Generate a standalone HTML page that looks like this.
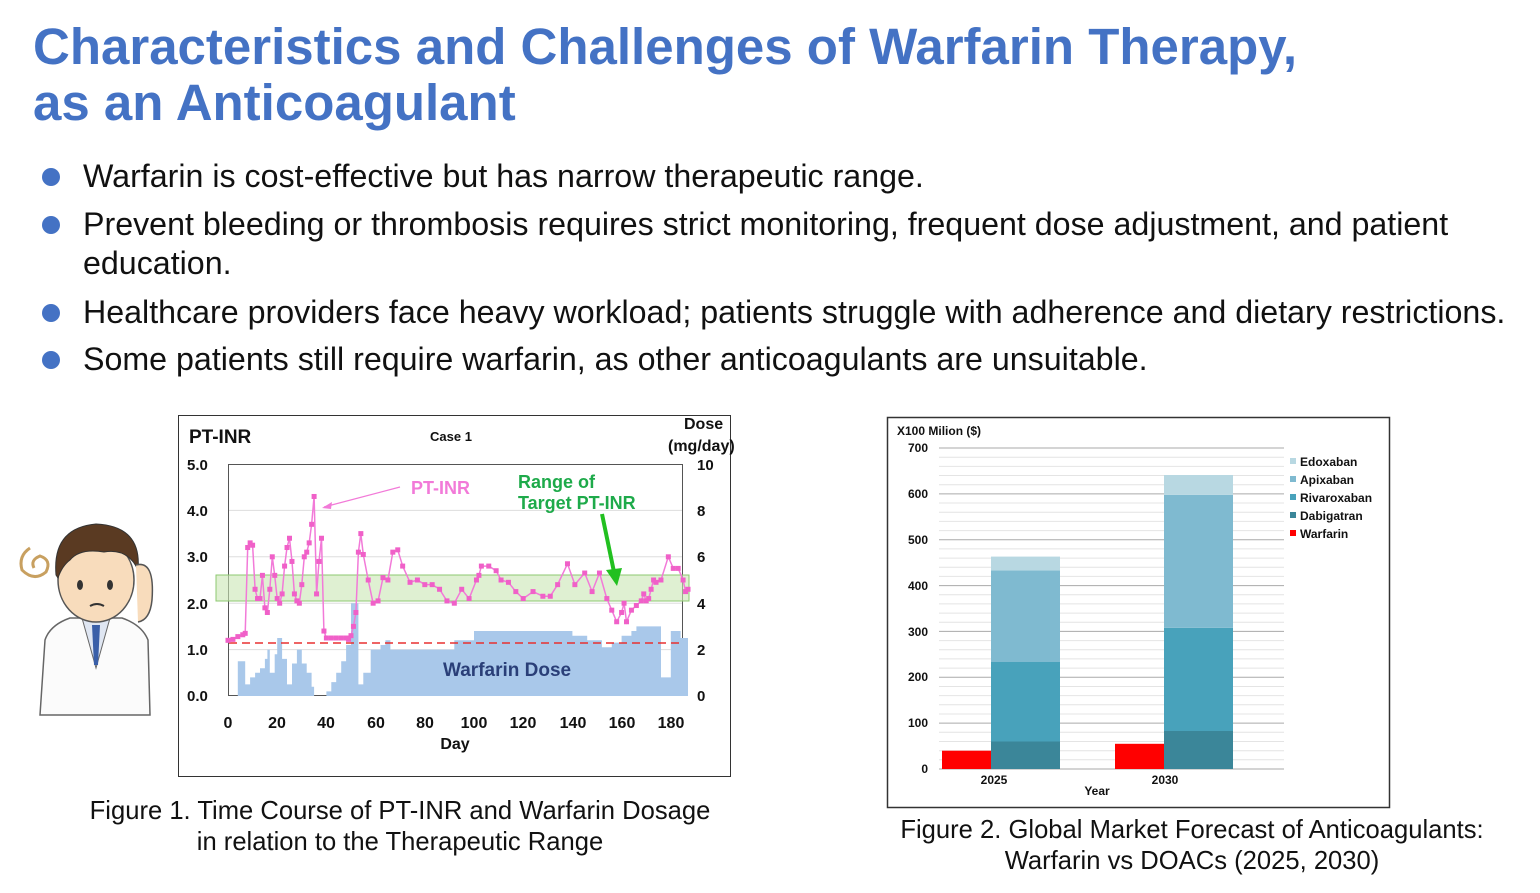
<!DOCTYPE html>
<html><head><meta charset="utf-8"><style>
body{margin:0;width:1540px;height:893px;background:#fff;overflow:hidden;font-family:"Liberation Sans",Arial,sans-serif;position:relative}
.t{position:absolute;left:33px;top:19px;font-size:51px;font-weight:bold;color:#4472c4;line-height:56px}
.b{position:absolute;left:83px;font-size:32.2px;color:#111;line-height:39px;white-space:nowrap}
.d{position:absolute;left:42px;width:18px;height:18px;border-radius:50%;background:#4472c4}
.cap{position:absolute;font-size:25.6px;color:#111;text-align:center;line-height:31px;white-space:nowrap}
</style></head><body>
<div class="t">Characteristics and Challenges of Warfarin Therapy,<br>as an Anticoagulant</div>
<div class="d" style="top:168px"></div><div class="b" style="top:157px">Warfarin is cost-effective but has narrow therapeutic range.</div>
<div class="d" style="top:216px"></div><div class="b" style="top:205px">Prevent bleeding or thrombosis requires strict monitoring, frequent dose adjustment, and patient<br>education.</div>
<div class="d" style="top:304px"></div><div class="b" style="top:293px">Healthcare providers face heavy workload; patients struggle with adherence and dietary restrictions.</div>
<div class="d" style="top:351px"></div><div class="b" style="top:340px">Some patients still require warfarin, as other anticoagulants are unsuitable.</div>

<svg width="1540" height="893" style="position:absolute;left:0;top:0" font-family="Liberation Sans,Arial,sans-serif">
<g>
<path d="M40 715 L45 640 Q50 625 70 618 L122 618 Q142 625 148 640 L150 715 Z" fill="#fbfbfb" stroke="#666" stroke-width="1.5"/>
<path d="M82 618 L96 668 L110 618 Z" fill="#dfe6f2" stroke="#666"/>
<path d="M92 625 L100 625 L98 665 L94 665 Z" fill="#3a5fa8"/>
<rect x="84" y="598" width="24" height="22" fill="#f6d3b0"/>
<ellipse cx="96" cy="580" rx="38" ry="42" fill="#f8dcbc" stroke="#555" stroke-width="1.5"/>
<path d="M56 575 Q52 528 96 524 Q142 526 138 570 Q128 548 104 552 Q80 548 70 560 Q62 566 58 578 Z" fill="#5a3a22" stroke="#333"/>
<ellipse cx="80" cy="585" rx="3" ry="5" fill="#333"/><ellipse cx="110" cy="585" rx="3" ry="5" fill="#333"/>
<path d="M90 606 Q97 602 104 606" stroke="#333" fill="none" stroke-width="2"/>
<path d="M136 565 Q155 560 152 600 Q150 620 138 622" fill="#f8dcbc" stroke="#555" stroke-width="1.5"/>
<path d="M30 548 Q18 556 22 570 Q34 582 46 572 Q52 560 40 556 Q30 560 34 568" fill="none" stroke="#c8a060" stroke-width="3"/>
</g>
<rect x="178.5" y="415.5" width="552" height="361" fill="#fff" stroke="#333"/>
<rect x="228.5" y="464.5" width="454" height="231" fill="none" stroke="#555"/>
<g stroke="#ddd"><line x1="229" x2="682" y1="510.4" y2="510.4"/><line x1="229" x2="682" y1="556.8" y2="556.8"/><line x1="229" x2="682" y1="603.2" y2="603.2"/><line x1="229" x2="682" y1="649.6" y2="649.6"/></g>
<path id="dose" fill="#a9c8ea" d=""/>
<rect x="216" y="575" width="473" height="26" fill="#c9e6b4" fill-opacity="0.6" stroke="#8cc870"/>
<line x1="229" x2="682" y1="643" y2="643" stroke="#e83030" stroke-width="1.5" stroke-dasharray="8,5"/>
<polyline id="inr" fill="none" stroke="#f27ad8" stroke-width="1.5" points=""/>
<g id="marks" fill="#f060c8"></g>
<text x="443" y="676" font-size="19" font-weight="bold" fill="#2a3f78">Warfarin Dose</text>
<text x="411" y="494" font-size="18" font-weight="bold" fill="#f27ad8">PT-INR</text>
<line x1="400" y1="487" x2="324" y2="507" stroke="#f27ad8" stroke-width="1.2"/>
<path d="M322 508 L332 502 L331 509 Z" fill="#f27ad8"/>
<text x="518" y="488" font-size="18" font-weight="bold" fill="#1eaa4a">Range of</text>
<text x="518" y="509" font-size="18" font-weight="bold" fill="#1eaa4a">Target PT-INR</text>
<line x1="602" y1="514" x2="614" y2="572" stroke="#22c020" stroke-width="4"/>
<path d="M606 570 L617 586 L622 568 Z" fill="#22c020"/>
<text x="189" y="443" font-size="19" font-weight="bold" fill="#111">PT-INR</text>
<text x="430" y="441" font-size="13" font-weight="bold" fill="#111">Case 1</text>
<text x="684" y="429" font-size="16" font-weight="bold" fill="#111">Dose</text>
<text x="668" y="451" font-size="16" font-weight="bold" fill="#111">(mg/day)</text>
<g font-size="15" font-weight="bold" fill="#111">
<text x="187" y="470">5.0</text><text x="187" y="516">4.0</text><text x="187" y="562">3.0</text><text x="187" y="609">2.0</text><text x="187" y="655">1.0</text><text x="187" y="701">0.0</text>
<text x="697" y="470">10</text><text x="697" y="516">8</text><text x="697" y="562">6</text><text x="697" y="609">4</text><text x="697" y="655">2</text><text x="697" y="701">0</text>
</g>
<g font-size="16" font-weight="bold" fill="#111" text-anchor="middle">
<text x="228" y="728">0</text><text x="277" y="728">20</text><text x="326" y="728">40</text><text x="376" y="728">60</text><text x="425" y="728">80</text><text x="474" y="728">100</text><text x="523" y="728">120</text><text x="573" y="728">140</text><text x="622" y="728">160</text><text x="671" y="728">180</text>
<text x="455" y="749">Day</text>
</g>
<rect x="887.5" y="417.5" width="502" height="390" fill="#fff" stroke="#333" stroke-width="1.5"/>
<g id="grid2"></g>
<g font-size="12" font-weight="bold" fill="#111">
<text x="897" y="435">X100 Milion ($)</text>
<g text-anchor="end"><text x="928" y="452">700</text><text x="928" y="498">600</text><text x="928" y="544">500</text><text x="928" y="590">400</text><text x="928" y="636">300</text><text x="928" y="681">200</text><text x="928" y="727">100</text><text x="928" y="773">0</text></g>
<text x="994" y="784" text-anchor="middle">2025</text><text x="1165" y="784" text-anchor="middle">2030</text><text x="1097" y="795" text-anchor="middle">Year</text>
</g>
<rect x="942" y="750.7" width="49" height="18.3" fill="#ff0000"/>
<rect x="991" y="741.5" width="69" height="27.5" fill="#3b8699"/>
<rect x="991" y="662" width="69" height="79.5" fill="#48a2bb"/>
<rect x="991" y="570.4" width="69" height="91.6" fill="#7fbad0"/>
<rect x="991" y="556.6" width="69" height="13.8" fill="#b8d8e2"/>
<rect x="1115" y="743.8" width="49" height="25.2" fill="#ff0000"/>
<rect x="1164" y="731" width="69" height="38" fill="#3b8699"/>
<rect x="1164" y="627.8" width="69" height="103.2" fill="#48a2bb"/>
<rect x="1164" y="494.8" width="69" height="133" fill="#7fbad0"/>
<rect x="1164" y="475" width="69" height="19.8" fill="#b8d8e2"/>
<g font-size="12" font-weight="bold" fill="#111">
<rect x="1290" y="458" width="6" height="6" fill="#b8d8e2"/><text x="1300" y="466">Edoxaban</text>
<rect x="1290" y="476" width="6" height="6" fill="#7fbad0"/><text x="1300" y="484">Apixaban</text>
<rect x="1290" y="494" width="6" height="6" fill="#48a2bb"/><text x="1300" y="502">Rivaroxaban</text>
<rect x="1290" y="512" width="6" height="6" fill="#3b8699"/><text x="1300" y="520">Dabigatran</text>
<rect x="1290" y="530" width="6" height="6" fill="#ff0000"/><text x="1300" y="538">Warfarin</text>
</g>
</svg>
<div class="cap" style="left:60px;width:680px;top:796px">Figure 1. Time Course of PT-INR and Warfarin Dosage<br>in relation to the Therapeutic Range</div>
<div class="cap" style="left:862px;width:660px;top:815px">Figure 2. Global Market Forecast of Anticoagulants:<br>Warfarin vs DOACs (2025, 2030)</div>
<script>
var X=d=>228+d*2.46,Y=v=>696-v*46.4;
var inr=[[0,1.2],[2,1.22],[4,1.28],[6,1.32],[7,1.35],[8,3.2],[9,3.3],[10,3.25],[11,2.3],[12,2.1],[13,2.1],[14,2.6],[15,1.9],[16,1.8],[17,2.3],[18,3.0],[19,2.6],[20,2.1],[21,2.0],[22,2.2],[23,2.8],[24,3.2],[25,3.4],[26,2.9],[27,2.2],[28,2.05],[29,2.0],[30,2.4],[31,3.0],[32,3.1],[33,3.3],[34,3.7],[35,4.3],[36,2.2],[37,2.9],[38,3.4],[39,1.4],[40,1.25],[42,1.25],[44,1.25],[46,1.25],[48,1.25],[49,1.22],[50,1.3],[51,1.5],[52,1.8],[53,3.1],[54,3.5],[55,3.05],[57,2.5],[59,2.0],[61,2.05],[63,2.55],[65,2.5],[67,3.1],[69,3.15],[71,2.8],[74,2.45],[77,2.5],[80,2.4],[83,2.4],[86,2.3],[89,2.05],[92,2.0],[95,2.3],[98,2.1],[101,2.5],[102,2.6],[103,2.8],[106,2.8],[109,2.7],[111,2.5],[114,2.45],[117,2.25],[120,2.1],[124,2.25],[128,2.15],[131,2.15],[134,2.4],[138,2.85],[141,2.4],[145,2.65],[148,2.25],[151,2.65],[154,2.1],[156,1.85],[158,1.6],[160,1.8],[161,2.0],[162,1.6],[164,1.85],[166,1.95],[168,2.05],[169,2.2],[170,2.05],[171,2.1],[172,2.3],[173,2.5],[174,2.45],[176,2.5],[179,3.0],[181,2.75],[183,2.75],[185,2.5],[186,2.25],[187,2.3]];
document.getElementById('inr').setAttribute('points',inr.map(p=>X(p[0]).toFixed(1)+','+Y(p[1]).toFixed(1)).join(' '));
var m='';inr.forEach(p=>{m+='<rect x="'+(X(p[0])-2.5)+'" y="'+(Y(p[1])-2.5)+'" width="5" height="5"/>'});
document.getElementById('marks').innerHTML=m;
var dz=[[0,0],[2,0],[4,0.75],[6,0.75],[7,0.25],[9,0.4],[11,0.5],[13,0.6],[15,0.8],[16,1.0],[17,0.5],[19,0.9],[20,1.25],[22,0.8],[24,0.25],[26,0.7],[28,1.0],[30,0.7],[32,0.5],[34,0.2],[35,0],[40,0.1],[42,0.3],[44,0.5],[46,0.75],[48,1.1],[50,2.0],[52,2.0],[53,0.25],[55,0.5],[58,1.0],[62,1.1],[64,1.2],[66,1.0],[90,1.0],[92,1.2],[100,1.4],[138,1.4],[140,1.3],[146,1.2],[152,1.05],[156,1.15],[160,1.3],[164,1.4],[166,1.5],[175,1.5],[176,0.4],[179,0.4],[180,1.4],[184,1.25],[186,1.25]];
var d='M'+X(0)+' 696';dz.forEach((p,i)=>{var nx=i<dz.length-1?dz[i+1][0]:187;d+=' L'+X(p[0]).toFixed(1)+' '+Y(p[1]).toFixed(1)+' L'+X(nx).toFixed(1)+' '+Y(p[1]).toFixed(1)});d+=' L'+X(187)+' 696 Z';
document.getElementById('dose').setAttribute('d',d);
var g='';for(var i=0;i<=35;i++){var y=769-i*9.171;g+='<line x1="939" x2="1284" y1="'+y.toFixed(1)+'" y2="'+y.toFixed(1)+'" stroke="'+(i%5==0?'#aaa':'#e4e4e4')+'"/>'}
document.getElementById('grid2').innerHTML=g;
</script>
</body></html>
